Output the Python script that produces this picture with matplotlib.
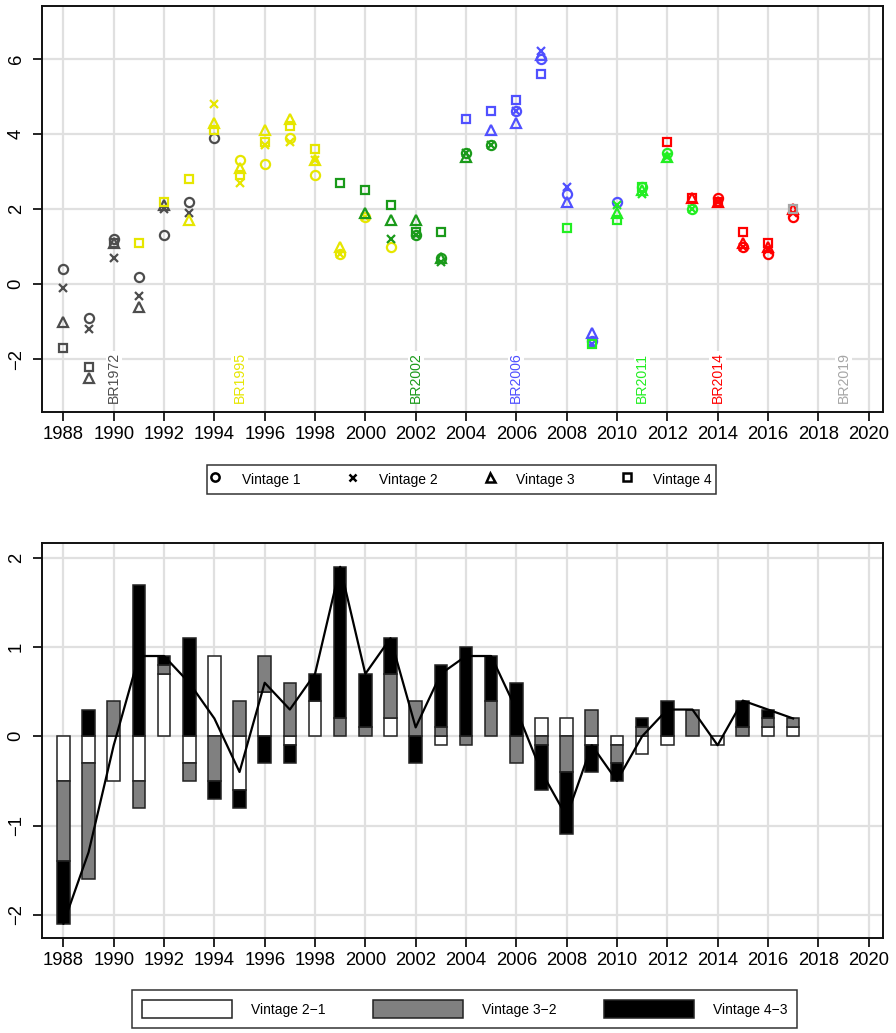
import numpy as np
import matplotlib
matplotlib.use("Agg")
import matplotlib.pyplot as plt
from matplotlib.lines import Line2D
from matplotlib.patches import Patch

plt.rcParams['font.family'] = ['Liberation Sans', 'DejaVu Sans']

# ---------------- data ----------------
years = list(range(1988, 2018))
vintage1 = [0.4, -0.9, 1.2, 0.2, 1.3, 2.2, 3.9, 3.3, 3.2, 3.9, 2.9, 0.8, 1.8, 1.0, 1.3,
            0.7, 3.5, 3.7, 4.6, 6.0, 2.4, -1.5, 2.2, 2.6, 3.5, 2.0, 2.3, 1.0, 0.8, 1.8]
vintage2 = [-0.1, -1.2, 0.7, -0.3, 2.0, 1.9, 4.8, 2.7, 3.7, 3.8, 3.3, 0.8, 1.8, 1.2, 1.3,
            0.6, 3.5, 3.7, 4.6, 6.2, 2.6, -1.6, 2.1, 2.4, 3.4, 2.0, 2.2, 1.0, 0.9, 1.9]
vintage3 = [-1.0, -2.5, 1.1, -0.6, 2.1, 1.7, 4.3, 3.1, 4.1, 4.4, 3.3, 1.0, 1.9, 1.7, 1.7,
            0.7, 3.4, 4.1, 4.3, 6.1, 2.2, -1.3, 1.9, 2.5, 3.4, 2.3, 2.2, 1.1, 1.0, 2.0]
vintage4 = [-1.7, -2.2, 1.1, 1.1, 2.2, 2.8, 4.1, 2.9, 3.8, 4.2, 3.6, 2.7, 2.5, 2.1, 1.4,
            1.4, 4.4, 4.6, 4.9, 5.6, 1.5, -1.6, 1.7, 2.6, 3.8, 2.3, 2.2, 1.4, 1.1, 2.0]

# benchmark revision each point belongs to
br_v1 = ['BR1972'] * 7 + ['BR1995'] * 7 + ['BR2002'] * 4 + ['BR2006'] * 5 + ['BR2011'] * 3 + ['BR2014'] * 4
br_v2 = ['BR1972'] * 6 + ['BR1995'] * 7 + ['BR2002'] * 5 + ['BR2006'] * 4 + ['BR2011'] * 4 + ['BR2014'] * 4
br_v3 = ['BR1972'] * 5 + ['BR1995'] * 7 + ['BR2002'] * 5 + ['BR2006'] * 5 + ['BR2011'] * 3 + ['BR2014'] * 5
br_v4 = ['BR1972'] * 3 + ['BR1995'] * 8 + ['BR2002'] * 5 + ['BR2006'] * 4 + ['BR2011'] * 4 + ['BR2014'] * 5 + ['BR2019'] * 1

br_names = ['BR1972', 'BR1995', 'BR2002', 'BR2006', 'BR2011', 'BR2014', 'BR2019']
br_years = [1990, 1995, 2002, 2006, 2011, 2014, 2019]
br_colors = ['#4d4d4d', '#e6e600', '#1a9a1a', '#5050ff', '#22ee22', '#ff0000', '#a6a6a6']

vintage_labels = ['Vintage 1', 'Vintage 2', 'Vintage 3', 'Vintage 4']
revision_labels = ['Vintage 2\u22121', 'Vintage 3\u22122', 'Vintage 4\u22123']
revision_fills = ['white', '#808080', 'black']

# ---------------- figure ----------------
fig = plt.figure(figsize=(8.96, 10.33), dpi=100)
ax1 = fig.add_axes([0.0469, 0.6012, 0.9382, 0.3927])
ax2 = fig.add_axes([0.0469, 0.0917, 0.9382, 0.3824])

grid_c = '#e0e0e0'
xlim = (1987.15, 2020.56)
xticks = list(range(1988, 2021, 2))

def style(ax, yticks):
    ax.set_xlim(*xlim)
    ax.set_xticks(xticks)
    ax.set_yticks(yticks)
    ax.set_axisbelow(True)
    ax.grid(True, color=grid_c, linewidth=1.6)
    for s in ax.spines.values():
        s.set_linewidth(1.4)
        s.set_color('#111111')
    ax.tick_params(axis='both', direction='out', length=6.5, width=1.2, labelsize=13.3)
    ax.tick_params(axis='x', pad=3.5)
    ax.tick_params(axis='y', pad=6)
    for lab in ax.get_yticklabels():
        lab.set_rotation(90)
        lab.set_va('center')

# ---- top panel ----
cmap = dict(zip(br_names, br_colors))
markers = [('o', 6.6), ('x', 5.6), ('^', 7.2), ('s', 6.0)]
vals = [vintage1, vintage2, vintage3, vintage4]
brs = [br_v1, br_v2, br_v3, br_v4]
for k in range(4):
    m, ms = markers[k]
    for yr, v, b in zip(years, vals[k], brs[k]):
        ax1.plot(yr, v, linestyle='none', marker=m, markersize=ms,
                 markerfacecolor='none', markeredgecolor=cmap[b],
                 markeredgewidth=1.6, color=cmap[b], zorder=3)

ax1.set_ylim(-3.4, 7.4)
style(ax1, [-2, 0, 2, 4, 6])
for name, yr, c in zip(br_names, br_years, br_colors):
    ax1.text(yr, -3.17, name, rotation=90, ha='center', va='bottom', color=c,
             fontsize=10.2, zorder=4,
             bbox=dict(facecolor='white', edgecolor='none', pad=0.8))

# ---- bottom panel ----
v = np.array(vals)
diffs = np.round(np.diff(v, axis=0), 2)
pos_base = np.zeros(len(years))
neg_base = np.zeros(len(years))
yrs = np.array(years)
for k in range(3):
    d = diffs[k]
    base = np.where(d >= 0, pos_base, neg_base)
    mask = d != 0
    ax2.bar(yrs[mask], d[mask], width=0.5, bottom=base[mask], color=revision_fills[k],
            edgecolor='#222222', linewidth=1.1, zorder=2)
    pos_base = pos_base + np.where(d > 0, d, 0)
    neg_base = neg_base + np.where(d < 0, d, 0)

total = np.round(v[3] - v[0], 2)
ax2.plot(yrs, total, color='black', linewidth=1.6, zorder=3)
ax2.set_ylim(-2.264, 2.164)
style(ax2, [-2, -1, 0, 1, 2])

# ---- legends ----
h1 = [Line2D([], [], linestyle='none', marker=m, markersize=ms * 0.9, markerfacecolor='none',
             markeredgecolor='black', markeredgewidth=1.8) for m, ms in markers]
leg1 = fig.legend(h1, vintage_labels, loc='center', bbox_to_anchor=(0.5151, 0.5358), ncol=4,
                  fontsize=10, frameon=True, fancybox=False, edgecolor='black',
                  handlelength=0.6, handleheight=1.9, handletextpad=1.6, columnspacing=3.45,
                  borderpad=0.3)
leg1.get_frame().set_linewidth(1.1)

h2 = [Patch(facecolor=f, edgecolor='#222222', linewidth=1.1) for f in revision_fills]
leg2 = fig.legend(h2, revision_labels, loc='center', bbox_to_anchor=(0.5184, 0.0232), ncol=3,
                  fontsize=10, frameon=True, fancybox=False, edgecolor='black',
                  handlelength=6.5, handleheight=1.7, handletextpad=1.35, columnspacing=3.4,
                  borderpad=0.7)
leg2.get_frame().set_linewidth(1.1)

fig.savefig('out.png', dpi=100)
